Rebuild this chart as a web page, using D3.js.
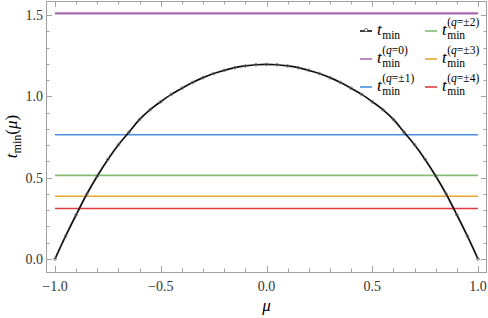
<!DOCTYPE html>
<html>
<head>
<meta charset="utf-8">
<script src="https://cdn.jsdelivr.net/npm/d3@7"></script>
<style>
body { margin: 0; background: white; }
svg text { font-family: 'Liberation Serif', 'DejaVu Serif', serif; }
</style>
</head>
<body>
<div id="chart"></div>
<script>
// data
var mu   = [-1.00,-0.95,-0.90,-0.85,-0.80,-0.75,-0.70,-0.65,-0.60,-0.55,-0.50,-0.45,-0.40,-0.35,-0.30,-0.25,-0.20,-0.15,-0.10,-0.05,
             0.00, 0.05, 0.10, 0.15, 0.20, 0.25, 0.30, 0.35, 0.40, 0.45, 0.50, 0.55, 0.60, 0.65, 0.70, 0.75, 0.80, 0.85, 0.90, 0.95, 1.00];
var tmin = [0.000,0.140,0.272,0.398,0.510,0.612,0.702,0.780,0.858,0.918,0.967,1.012,1.050,1.085,1.115,1.140,1.160,1.176,1.187,1.194,
            1.196,1.194,1.187,1.176,1.160,1.140,1.115,1.085,1.050,1.012,0.967,0.918,0.858,0.780,0.702,0.612,0.510,0.398,0.272,0.140,0.000];
var levelSup = ["(q=0)", "(q=±1)", "(q=±2)", "(q=±3)", "(q=±4)"];
var levelVal = [1.510, 0.764, 0.514, 0.386, 0.310];
var levelCol = ["#a86cb4", "#4a8fe2", "#86bb72", "#e9a62a", "#e23b40"];
var xTicks = [-1.0, -0.5, 0.0, 0.5, 1.0];
var yTicks = [0.0, 0.5, 1.0, 1.5];

var W = 488, H = 318;
var svg = d3.select("#chart").append("svg").attr("width", W).attr("height", H);
var frame = {l: 46, r: 487, t: 1, b: 272};

var x = d3.scaleLinear().domain([-1, 1]).range([55, 478]);
var y = d3.scaleLinear().domain([0, 1.5]).range([259, 15]);

// frame
svg.append("rect").attr("x", frame.l + 0.5).attr("y", frame.t + 0.5)
  .attr("width", frame.r - frame.l - 1).attr("height", frame.b - frame.t)
  .attr("fill", "none").attr("stroke", "#a0a0a0").attr("stroke-width", 1);

// ticks (inward, all four sides, minor every 0.1)
var xMinor = d3.range(-10, 11).map(function(i){ return i / 10; });
var yMinor = d3.range(0, 16).map(function(i){ return i / 10; });
function isMajor(v){ return Math.abs(v * 2 - Math.round(v * 2)) < 1e-6; }
var tk = svg.append("g").attr("stroke", "#a0a0a0").attr("stroke-width", 1);
xMinor.forEach(function(v){
  var L = isMajor(v) ? 6 : 3.5, px = Math.round(x(v)) + 0.5;
  tk.append("line").attr("x1", px).attr("x2", px).attr("y1", frame.b).attr("y2", frame.b - L);
  tk.append("line").attr("x1", px).attr("x2", px).attr("y1", frame.t).attr("y2", frame.t + L);
});
yMinor.forEach(function(v){
  var L = isMajor(v) ? 6 : 3.5, py = Math.round(y(v)) + 0.5;
  tk.append("line").attr("y1", py).attr("y2", py).attr("x1", frame.l).attr("x2", frame.l + L);
  tk.append("line").attr("y1", py).attr("y2", py).attr("x1", frame.r).attr("x2", frame.r - L);
});

// tick labels
svg.selectAll(".xl").data(xTicks).enter().append("text")
  .attr("x", function(d){ return x(d); }).attr("y", frame.b + 19)
  .attr("text-anchor", "middle").style("font-size", "14px").attr("fill", "#333")
  .text(function(d){ return d3.format(".1f")(d).replace("-", "\u2212"); });
svg.selectAll(".yl").data(yTicks).enter().append("text")
  .attr("x", frame.l - 3).attr("y", function(d){ return y(d) + 5; })
  .attr("text-anchor", "end").style("font-size", "14px").attr("fill", "#333")
  .text(function(d){ return d3.format(".1f")(d); });

// axis labels
svg.append("text").attr("x", (frame.l + frame.r) / 2).attr("y", 311)
  .attr("text-anchor", "middle").style("font-size", "17px").style("font-style", "italic").text("μ");
var yl = svg.append("text").attr("transform", "translate(17," + ((frame.t + frame.b) / 2) + ") rotate(-90)")
  .attr("text-anchor", "middle").style("font-size", "17px");
yl.append("tspan").style("font-style", "italic").text("t");
yl.append("tspan").attr("dy", 4).style("font-size", "12px").text("min");
yl.append("tspan").attr("dy", -4).text("(");
yl.append("tspan").style("font-style", "italic").text("μ");
yl.append("tspan").text(")");

// horizontal levels
svg.selectAll(".lev").data(levelVal).enter().append("line")
  .attr("x1", x(-1)).attr("x2", x(1))
  .attr("y1", function(d){ return y(d); }).attr("y2", function(d){ return y(d); })
  .attr("stroke", function(d, i){ return levelCol[i]; })
  .attr("stroke-width", function(d, i){ return i == 0 ? 2.2 : 1.6; });

// t_min curve
var pts = mu.map(function(m, i){ return [m, tmin[i]]; });
var line = d3.line().x(function(d){ return x(d[0]); }).y(function(d){ return y(d[1]); }).curve(d3.curveMonotoneX);
svg.append("path").datum(pts).attr("d", line).attr("fill", "none").attr("stroke", "#111").attr("stroke-width", 1.7);
svg.selectAll(".pt").data(pts).enter().append("circle")
  .attr("cx", function(d){ return x(d[0]); }).attr("cy", function(d){ return y(d[1]); })
  .attr("r", 1.4).attr("fill", "none").attr("stroke", "#777").attr("stroke-width", 0.8);

// legend: t with stacked sub/superscript
function tLabel(g, tx, ty, sup){
  var t = g.append("text").attr("x", tx).attr("y", ty).style("font-size", "17px").style("font-style", "italic").text("t");
  var w = t.node().getComputedTextLength();
  g.append("text").attr("x", tx + w + 0.5).attr("y", ty + 4).style("font-size", "11.5px").text("min");
  if (sup) {
    var s = g.append("text").attr("x", tx + w + 0.5).attr("y", ty - 9).style("font-size", "11.5px");
    s.append("tspan").text("(");
    s.append("tspan").style("font-style", "italic").text("q");
    s.append("tspan").text(sup.slice(2));
  }
}
var lg = svg.append("g");
var legCols = [360, 425], legRows = [31, 59, 87];
var entries = [{col: "#111", sup: null, dot: true}].concat(levelSup.map(function(s, i){ return {col: levelCol[i], sup: s}; }));
entries.forEach(function(e, i){
  var cx = legCols[Math.floor(i / 3)], cy = legRows[i % 3];
  lg.append("line").attr("x1", cx).attr("x2", cx + 12).attr("y1", cy).attr("y2", cy)
    .attr("stroke", e.col).attr("stroke-width", 1.6);
  if (e.dot) lg.append("circle").attr("cx", cx + 6).attr("cy", cy - 1).attr("r", 1.6)
    .attr("fill", "white").attr("stroke", "#555").attr("stroke-width", 0.8);
  tLabel(lg, cx + 17, cy + 4, e.sup);
});
</script>
</body>
</html>
